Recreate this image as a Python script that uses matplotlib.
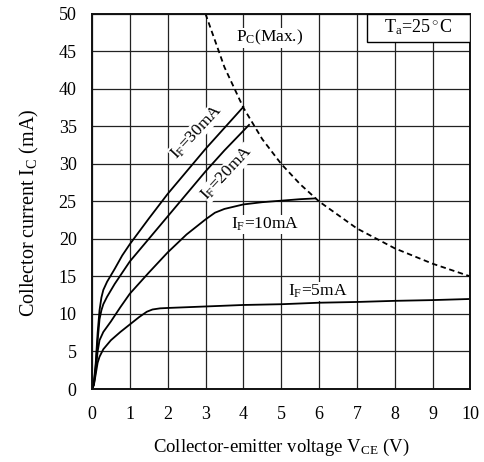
import matplotlib
matplotlib.use("Agg")
import matplotlib.pyplot as plt
from matplotlib.patches import Rectangle

plt.rcParams['font.family'] = ['Liberation Serif', 'DejaVu Serif']
plt.rcParams['mathtext.fontset'] = 'custom'
plt.rcParams['mathtext.rm'] = 'Liberation Serif'
plt.rcParams['mathtext.it'] = 'Liberation Serif:italic'

# ---- data ----
v_if30 = [0, 0.05, 0.1, 0.15, 0.2, 0.25, 0.3, 0.4, 0.6, 0.8, 1.0, 1.5, 2.0, 2.5, 3.0, 3.5, 4.0]
i_if30 = [0, 0.8, 3.5, 7.5, 10.5, 12.2, 13.2, 14.3, 16.0, 17.8, 19.3, 22.7, 26.0, 29.0, 32.0, 34.8, 37.6]

v_if20 = [0, 0.05, 0.1, 0.15, 0.2, 0.25, 0.3, 0.4, 0.6, 0.8, 1.0, 1.5, 2.0, 2.5, 3.0, 3.5, 4.15]
i_if20 = [0, 0.7, 3.0, 6.5, 9.3, 10.5, 11.3, 12.3, 14.0, 15.5, 17.0, 20.0, 23.0, 26.0, 29.0, 31.8, 35.2]

v_if10 = [0, 0.05, 0.1, 0.15, 0.2, 0.3, 0.5, 0.75, 1.0, 1.5, 2.0, 2.5, 3.0, 3.25, 3.5, 4.0, 4.5, 5.0, 5.5, 5.9]
i_if10 = [0, 0.6, 2.5, 5.0, 6.5, 7.6, 9.0, 10.9, 12.7, 15.5, 18.2, 20.6, 22.6, 23.5, 24.0, 24.6, 24.9, 25.1, 25.3, 25.4]

v_if5 = [0, 0.05, 0.1, 0.15, 0.2, 0.3, 0.5, 0.75, 1.0, 1.25, 1.45, 1.6, 1.8, 2, 3, 4, 5, 6, 7, 8, 9, 10]
i_if5 = [0, 0.5, 2.0, 3.5, 4.3, 5.3, 6.5, 7.6, 8.6, 9.6, 10.3, 10.6, 10.75, 10.8, 11.0, 11.2, 11.3, 11.5, 11.6, 11.75, 11.85, 12.0]

v_pc = [3, 3.5, 4, 4.5, 5, 5.5, 6, 7, 8, 9, 10]
i_pc = [50, 42.9, 37.5, 33.3, 30, 27.3, 25, 21.4, 18.75, 16.7, 15]

x_ticks = [0, 1, 2, 3, 4, 5, 6, 7, 8, 9, 10]
y_ticks = [0, 5, 10, 15, 20, 25, 30, 35, 40, 45, 50]

fig = plt.figure(figsize=(4.84, 4.62), dpi=100)
ax = fig.add_axes([0.190, 0.158, 0.782, 0.812])

ax.set_xlim(0, 10)
ax.set_ylim(0, 50)
ax.set_xticks(x_ticks)
ax.set_yticks(y_ticks)
ax.tick_params(length=0, labelsize=13)
ax.tick_params(axis='x', pad=12)
ax.tick_params(axis='y', pad=11)
ax.grid(True, color='#222222', linewidth=0.9)
ax.set_axisbelow(True)
for s in ax.spines.values():
    s.set_linewidth(1.4)
    s.set_color('#111111')

lw = 1.3
ax.plot(v_if30, i_if30, color='black', lw=lw)
ax.plot(v_if20, i_if20, color='black', lw=lw)
ax.plot(v_if10, i_if10, color='black', lw=lw)
ax.plot(v_if5, i_if5, color='black', lw=lw)
ax.plot(v_pc, i_pc, color='black', lw=1.3, linestyle=(0, (3, 2)))

fs = 12.5
ax.text(4.70, 46.8, r'P$_\mathrm{C}$(Max.)', fontsize=fs, ha='center', va='center',
        bbox=dict(facecolor='white', edgecolor='none', pad=0.5))
ax.text(2.76, 34.3, r'I$_\mathrm{F}$=30mA', fontsize=fs, ha='center', va='center', rotation=47,
        rotation_mode='anchor', bbox=dict(facecolor='white', edgecolor='none', pad=0.3))
ax.text(3.57, 28.8, r'I$_\mathrm{F}$=20mA', fontsize=fs, ha='center', va='center', rotation=47,
        rotation_mode='anchor', bbox=dict(facecolor='white', edgecolor='none', pad=0.3))
ax.text(4.58, 21.9, r'I$_\mathrm{F}$=10mA', fontsize=fs, ha='center', va='center',
        bbox=dict(facecolor='white', edgecolor='none', pad=0.5))
ax.text(5.97, 13.0, r'I$_\mathrm{F}$=5mA', fontsize=fs, ha='center', va='center',
        bbox=dict(facecolor='white', edgecolor='none', pad=0.5))

ax.add_patch(Rectangle((7.27, 46.2), 2.73, 3.8, facecolor='white', edgecolor='black',
                       linewidth=1.0, zorder=3))
ax.text(8.62, 48.2, r'T$_\mathrm{a}$=25$^\circ$C', fontsize=13, ha='center', va='center', zorder=4)

ax.set_xlabel(r'Collector-emitter voltage V$_\mathrm{CE}$ (V)', fontsize=13.5, labelpad=10)
ax.set_ylabel(r'Collector current I$_\mathrm{C}$ (mA)', fontsize=14.5)
ax.yaxis.set_label_coords(-0.135, 0.47)

fig.savefig('out.png', dpi=100)
